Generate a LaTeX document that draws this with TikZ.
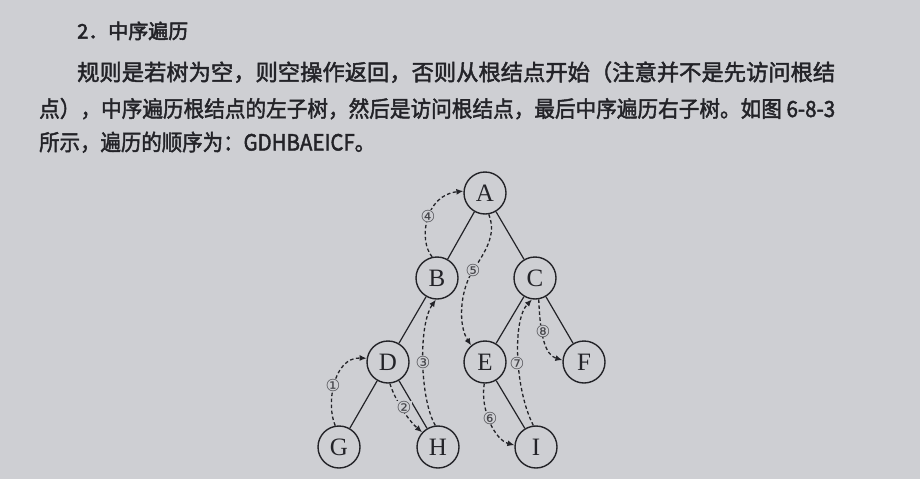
\documentclass[tikz,border=0pt]{standalone}
\usepackage{fontspec}
\usepackage{graphicx}
\setmainfont{Liberation Serif}
\newfontfamily\cjk{Noto Sans CJK SC}
\newfontfamily\cjkb[FakeBold=2]{Noto Sans CJK SC}
\newfontfamily\cjkt[FakeBold=2.5]{Noto Sans CJK SC}
\newfontfamily\numfont{DejaVu Sans}
\usetikzlibrary{arrows.meta}
\definecolor{bg}{RGB}{206,207,211}
\definecolor{ink}{RGB}{35,35,40}
\definecolor{numc}{RGB}{70,70,75}
\begin{document}
\begin{tikzpicture}[x=1pt,y=-1pt,
  tn/.style={circle,draw=ink,line width=1.4pt,minimum size=42pt,inner sep=0pt,
    font=\fontsize{25}{25}\selectfont,text=ink},
  edge/.style={draw=ink,line width=1.2pt},
  trav/.style={draw=ink,line width=1.3pt,dash pattern=on 3.5pt off 2.5pt,
    -{Latex[length=7pt,width=6pt]}},
  num/.style={fill=bg,inner sep=0.3pt,font=\numfont\fontsize{16.5}{16.5}\selectfont,text=numc},
  txt/.style={anchor=base west,inner sep=0pt,text=ink}]
\fill[bg] (0,0) rectangle (920,479);
\useasboundingbox (0,0) rectangle (920,479);

% text
\node[txt,font=\cjkt\fontsize{20}{20}\selectfont] (title) at (77,38.5) {2．中序遍历};
\node[txt] (l1) at (77,80.5) {\resizebox{758pt}{\height}{\cjkb\fontsize{22.3}{22.3}\selectfont 规则是若树为空，则空操作返回，否则从根结点开始（注意并不是先访问根结}};
\node[txt] (l2) at (39,117) {\resizebox{796pt}{\height}{\cjkb\fontsize{22.3}{22.3}\selectfont 点），中序遍历根结点的左子树，然后是访问根结点，最后中序遍历右子树。如图 6-8-3}};
\node[txt] (l3) at (39,150.5) {\resizebox{336pt}{\height}{\cjkb\fontsize{22.3}{22.3}\selectfont 所示，遍历的顺序为：GDHBAEICF。}};

% tree
\node[tn] (A) at (485,193) {A};
\node[tn] (B) at (437,278) {B};
\node[tn] (C) at (535,278) {C};
\node[tn] (D) at (388,362) {D};
\node[tn] (E) at (485,362) {E};
\node[tn] (F) at (584,362) {F};
\node[tn] (G) at (339,447) {G};
\node[tn] (H) at (438,447) {H};
\node[tn] (I) at (536,447) {I};

\draw[edge] (A) -- (B);
\draw[edge] (A) -- (C);
\draw[edge] (B) -- (D);
\draw[edge] (C) -- (E);
\draw[edge] (C) -- (F);
\draw[edge] (D) -- (G);
\draw[edge] (D) -- (H);
\draw[edge] (E) -- (I);

% traversal
\draw[trav] (G.100) .. controls (326,405) and (333,357) .. (D.170);
\draw[trav] (D.-85) .. controls (395,400) and (408,420) .. (H.137);
\draw[trav] (H.97) .. controls (420,400) and (418,325) .. (B.267);
\draw[trav] (B.103) .. controls (418,240) and (425,195) .. (A.175);
\draw[trav] (A.-80) .. controls (497,235) and (485,252) .. (472,272) .. controls (460,292) and (458,325) .. (E.130);
\draw[trav] (E.-92) .. controls (480,410) and (495,440) .. (I.175);
\draw[trav] (I.97) .. controls (515,390) and (512,320) .. (C.262);
\draw[trav] (C.-80) .. controls (540,335) and (545,355) .. (F.175);

\node[num] (n1) at (333,385) {①};
\node[num] (n2) at (404,407) {②};
\node[num] (n3) at (423,362) {③};
\node[num] (n4) at (428,216) {④};
\node[num] (n5) at (473,270) {⑤};
\node[num] (n6) at (490,418) {⑥};
\node[num] (n7) at (517,363) {⑦};
\node[num] (n8) at (543,331) {⑧};
\end{tikzpicture}
\end{document}
